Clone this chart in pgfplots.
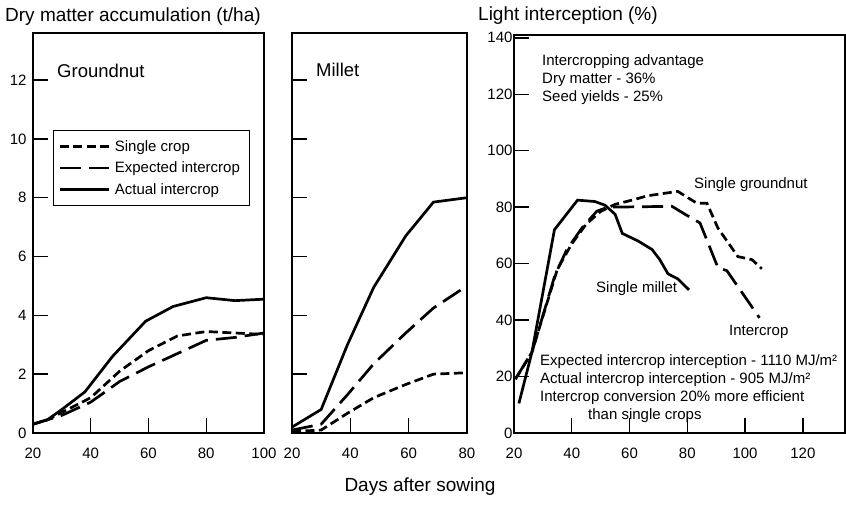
\documentclass[border=0pt]{standalone}
\usepackage{fontspec}
\setmainfont{Liberation Sans}
\usepackage{pgfplots}
\pgfplotsset{compat=1.18}
\newcommand\tf{\fontsize{15}{17}\selectfont}
\newcommand\lf{\fontsize{18.5}{21}\selectfont}
\newcommand\hf{\fontsize{19}{22}\selectfont}
\begin{document}
\begin{tikzpicture}[x=1pt,y=1pt]
\path[use as bounding box] (0,0) rectangle (846,506);
\pgfplotsset{
  panel/.style={
    scale only axis, anchor=south west, clip=false,
    axis line style={line width=1.4pt},
    tick style={line width=1.4pt, black},
    tick align=inside, xtick pos=bottom, ytick pos=left,
    major tick length=15pt,
    /pgf/number format/assume math mode=true,
    tick label style={font=\tf},
    xticklabel style={yshift=-11pt},
  },
  sc/.style={black, line width=2.7pt, dash pattern=on 9pt off 4.5pt},
  ei/.style={black, line width=2.7pt, dash pattern=on 21pt off 8pt},
  ai/.style={black, line width=2.7pt},
}
% ---------------- Groundnut
\begin{axis}[panel, at={(33pt,73pt)}, width=231pt, height=400pt,
  xmin=20, xmax=100, ymin=0, ymax=13.6,
  xtick={20,40,...,100}, ytick={0,2,...,12},
  yticklabel style={xshift=-3pt},
  legend style={at={(0.087,0.7575)}, anchor=north west, draw=black, line width=1.1pt,
    font=\tf, inner xsep=5pt, inner ysep=8pt, row sep=5pt,
    nodes={inner xsep=4.5pt, inner ysep=2pt},
    cells={anchor=west}},
  legend image code/.code={\draw[#1] (0pt,0pt) -- (49pt,0pt);}]
\addplot[sc] coordinates {(20,0.3)(25,0.45)(30,0.7)(40,1.2)(50,2.1)(60,2.8)(70,3.3)(80,3.45)(90,3.4)(100,3.35)};
\addlegendentry{Single crop}
\addplot[ei] coordinates {(20,0.3)(25,0.45)(30,0.6)(40,1.05)(50,1.75)(60,2.25)(70,2.7)(80,3.15)(90,3.25)(100,3.4)};
\addlegendentry{Expected intercrop}
\addplot[ai] coordinates {(20,0.3)(25,0.45)(30,0.8)(38,1.4)(47.5,2.6)(59,3.8)(68.5,4.3)(80,4.6)(90,4.5)(100,4.55)};
\addlegendentry{Actual intercrop}
\end{axis}
% ---------------- Millet
\begin{axis}[panel, at={(292pt,73pt)}, width=175pt, height=400pt,
  xmin=20, xmax=80, ymin=0, ymax=13.6,
  xtick={20,40,60,80}, ytick={0,2,...,12}, yticklabels={,,,,,,}]
\addplot[ai] coordinates {(20,0.2)(30,0.8)(39,3.0)(48,4.95)(59,6.7)(68.5,7.85)(80,8.0)};
\addplot[ei] coordinates {(20,0.1)(30,0.3)(39,1.3)(48,2.35)(59,3.4)(68.5,4.25)(80,5.0)};
\addplot[sc] coordinates {(20,0.05)(30,0.1)(39,0.67)(48,1.2)(59,1.65)(68.5,2.0)(80,2.05)};
\end{axis}
% ---------------- Light interception
\begin{axis}[panel, at={(514pt,73pt)}, width=331pt, height=398pt,
  xmin=20, xmax=134.6, ymin=0, ymax=141,
  xtick={20,40,...,120}, ytick={0,20,...,140},
  yticklabel style={xshift=2pt}]
\addplot[ai] coordinates {(21.7,10.5)(26.2,28.6)(34,72)(42,82.5)(48,82)(51.5,80.7)(55,77.5)(57.5,70.7)(63,68)(67.8,65)(70.5,61.4)(73.3,56.4)(76.7,54.6)(80.6,50.7)};
\addplot[ei] coordinates {(21,20)(26.2,28.6)(34.2,56)(38.3,65)(43.5,72.6)(48.7,78.6)(52.5,80)(74.7,80.3)(79.2,77.5)(84.4,74.4)(90.6,58.6)(93.7,57.5)(105,40.8)};
\addplot[sc] coordinates {(20.5,19)(26.2,28.6)(35,58)(40,67)(45,74)(50,78.5)(55,81)(62,82.8)(66,84)(76.7,85.6)(83.3,81.4)(86.8,81.4)(90.6,72.6)(97.5,62.5)(102.4,61.4)(105.8,58.2)};
\end{axis}
% ---------------- texts
\node[anchor=west, inner sep=0, font=\hf] at (5,489) {Dry matter accumulation (t/ha)};
\node[anchor=west, inner sep=0, font=\hf] at (478,490) {Light interception (\%)};
\node[inner sep=0, font=\hf] at (420,19) {Days after sowing};
\node[anchor=west, inner sep=0, font=\lf] at (57,435) {Groundnut};
\node[anchor=west, inner sep=0, font=\lf] at (316,436) {Millet};
\node[anchor=west, inner sep=0, font=\tf] at (542,444) {Intercropping advantage};
\node[anchor=west, inner sep=0, font=\tf] at (542,426) {Dry matter - 36\%};
\node[anchor=west, inner sep=0, font=\tf] at (542,408) {Seed yields - 25\%};
\node[anchor=west, inner sep=0, font=\tf] at (694,321) {Single groundnut};
\node[anchor=west, inner sep=0, font=\tf] at (596,217) {Single millet};
\node[anchor=west, inner sep=0, font=\tf] at (729,174) {Intercrop};
\node[anchor=west, inner sep=0, font=\tf] at (540,144) {Expected intercrop interception - 1110 MJ/m²};
\node[anchor=west, inner sep=0, font=\tf] at (540,126) {Actual intercrop interception - 905 MJ/m²};
\node[anchor=west, inner sep=0, font=\tf] at (540,108) {Intercrop conversion 20\% more efficient};
\node[anchor=west, inner sep=0, font=\tf] at (588,90) {than single crops};
\end{tikzpicture}
\end{document}
